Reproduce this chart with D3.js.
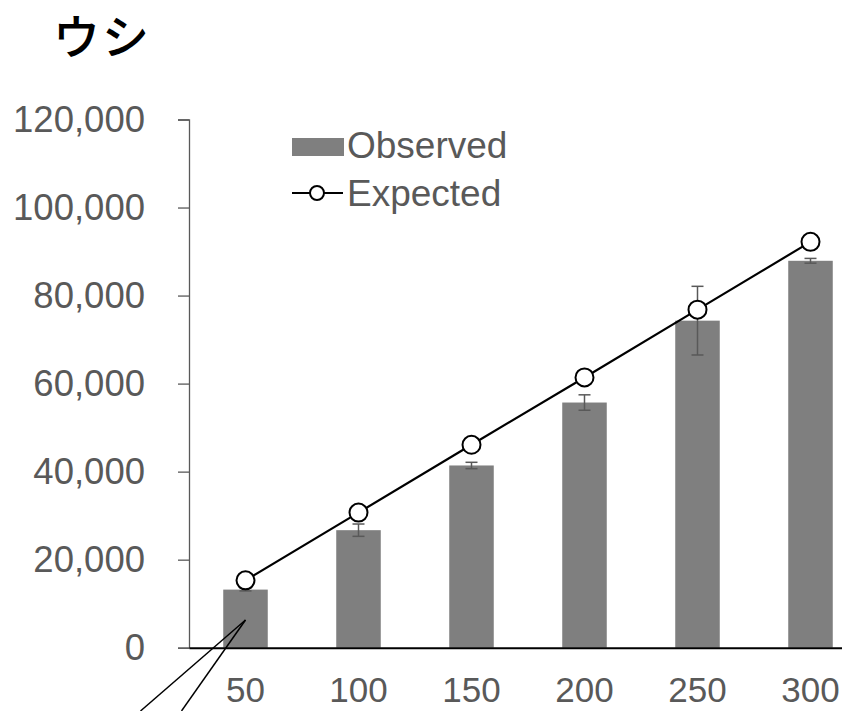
<!DOCTYPE html>
<html>
<head>
<meta charset="utf-8">
<script src="https://cdn.jsdelivr.net/npm/d3@7"></script>
<style>
  html, body { margin: 0; padding: 0; background: #fff; }
  svg { display: block; }
</style>
</head>
<body>
<div id="chart"></div>
<script>
// Loads (x categories) with observed means, their error ranges and the expected line
const categories = ["50", "100", "150", "200", "250", "300"];
const observed   = [13200, 26700, 41400, 55700, 74300, 87900];
const errors     = [300, 1400, 720, 1750, 7800, 540];
const expected   = [15300, 30700, 46100, 61400, 76800, 92200];
const yTicks     = [0, 20000, 40000, 60000, 80000, 100000, 120000];
const title      = "ウシ";
const seriesNames = ["Observed", "Expected"];

// Leader lines drawn from a point inside the first bar down out of the frame
const leaderAnchor = { category: "50", value: 6300 };
const leaderEnds   = [[-105, 91], [-64, 91]];

const W = 842, H = 711;
const svg = d3.select("#chart").append("svg")
  .attr("width", W).attr("height", H)
  .style("font-family", "'Liberation Sans', Arial, sans-serif");

const x = d3.scaleBand().domain(categories).range([189, 867]).padding(0);
const y = d3.scaleLinear().domain([0, 120000]).range([647.7, 119.5]);
const barW = x.bandwidth() * 0.394;
const cx = c => x(c) + x.bandwidth() / 2;

// Title
svg.append("text")
  .attr("x", 53).attr("y", 54)
  .attr("font-family", "'Noto Sans CJK JP', sans-serif")
  .attr("font-size", 47)
  .attr("font-weight", 500)
  .attr("letter-spacing", 2)
  .attr("fill", "#000")
  .text(title);

// Y axis
const yAxis = svg.append("g")
  .attr("transform", "translate(189,0)")
  .call(d3.axisLeft(y).tickValues(yTicks).tickSize(11).tickPadding(33)
    .tickFormat(d3.format(",")));
yAxis.select(".domain").attr("stroke", "#595959").attr("stroke-width", 1.3);
yAxis.selectAll(".tick line").attr("stroke", "#595959").attr("stroke-width", 1.3);
yAxis.selectAll(".tick text")
  .attr("fill", "#595959")
  .attr("font-size", 36.5)
  .attr("font-family", "'Liberation Sans', Arial, sans-serif");

// Bars
svg.append("g").selectAll("rect")
  .data(categories)
  .join("rect")
  .attr("x", c => cx(c) - barW / 2)
  .attr("width", barW)
  .attr("y", (c, i) => y(observed[i]))
  .attr("height", (c, i) => y(0) - y(observed[i]))
  .attr("fill", "#7f7f7f");

// Error bars
const eb = svg.append("g").attr("stroke", "#595959").attr("stroke-width", 1.5);
categories.forEach((c, i) => {
  const hi = y(observed[i] + errors[i]), lo = y(observed[i] - errors[i]);
  eb.append("line").attr("x1", cx(c)).attr("x2", cx(c)).attr("y1", hi).attr("y2", lo);
  eb.append("line").attr("x1", cx(c) - 6).attr("x2", cx(c) + 6).attr("y1", hi).attr("y2", hi);
  eb.append("line").attr("x1", cx(c) - 6).attr("x2", cx(c) + 6).attr("y1", lo).attr("y2", lo);
});

// X axis
const xAxis = svg.append("g")
  .attr("transform", `translate(0,${y(0)})`)
  .call(d3.axisBottom(x).tickSize(0).tickPadding(29));
xAxis.select(".domain").attr("stroke", "#000").attr("stroke-width", 2);
xAxis.selectAll(".tick text")
  .attr("fill", "#595959")
  .attr("font-size", 35)
  .attr("font-family", "'Liberation Sans', Arial, sans-serif");

// Expected line with open markers
const line = d3.line().x((d, i) => cx(categories[i])).y(d => y(d));
svg.append("path")
  .datum(expected)
  .attr("d", line)
  .attr("fill", "none")
  .attr("stroke", "#000")
  .attr("stroke-width", 2.2);
svg.append("g").selectAll("circle")
  .data(expected)
  .join("circle")
  .attr("cx", (d, i) => cx(categories[i]))
  .attr("cy", d => y(d))
  .attr("r", 9)
  .attr("fill", "#fff")
  .attr("stroke", "#000")
  .attr("stroke-width", 2);

// Leader lines
const ax = cx(leaderAnchor.category), ay = y(leaderAnchor.value);
svg.append("g").selectAll("line")
  .data(leaderEnds)
  .join("line")
  .attr("x1", ax).attr("y1", ay)
  .attr("x2", d => ax + d[0]).attr("y2", d => ay + d[1])
  .attr("stroke", "#000").attr("stroke-width", 1.5);

// Legend
const lg = svg.append("g");
lg.append("rect")
  .attr("x", 292).attr("y", 138).attr("width", 52).attr("height", 18)
  .attr("fill", "#7f7f7f");
lg.append("text")
  .attr("x", 347).attr("y", 158)
  .attr("font-size", 37).attr("fill", "#595959")
  .text(seriesNames[0]);
lg.append("line")
  .attr("x1", 292).attr("x2", 343).attr("y1", 193).attr("y2", 193)
  .attr("stroke", "#000").attr("stroke-width", 2);
lg.append("circle")
  .attr("cx", 317).attr("cy", 193).attr("r", 7)
  .attr("fill", "#fff").attr("stroke", "#000").attr("stroke-width", 2);
lg.append("text")
  .attr("x", 347).attr("y", 206)
  .attr("font-size", 37).attr("fill", "#595959")
  .text(seriesNames[1]);
</script>
</body>
</html>
